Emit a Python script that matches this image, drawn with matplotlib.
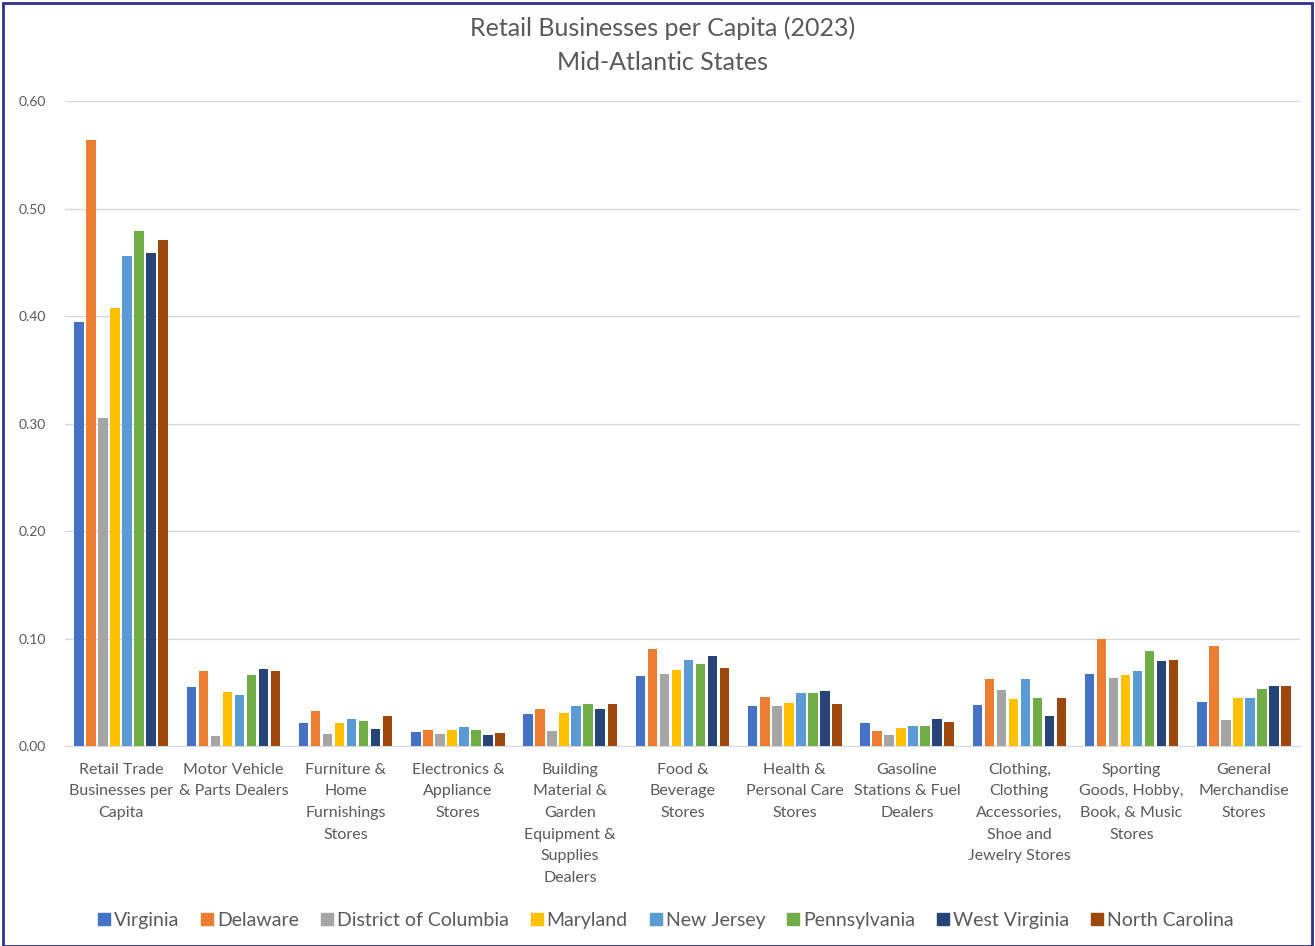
import matplotlib
matplotlib.use("Agg")
import matplotlib.pyplot as plt
import numpy as np
from matplotlib.patches import Rectangle
from matplotlib.lines import Line2D

plt.rcParams['font.family'] = ['Lato', 'DejaVu Sans']

categories = [
    "Retail Trade\nBusinesses per\nCapita",
    "Motor Vehicle\n& Parts Dealers",
    "Furniture &\nHome\nFurnishings\nStores",
    "Electronics &\nAppliance\nStores",
    "Building\nMaterial &\nGarden\nEquipment &\nSupplies\nDealers",
    "Food &\nBeverage\nStores",
    "Health &\nPersonal Care\nStores",
    "Gasoline\nStations & Fuel\nDealers",
    "Clothing,\nClothing\nAccessories,\nShoe and\nJewelry Stores",
    "Sporting\nGoods, Hobby,\nBook, & Music\nStores",
    "General\nMerchandise\nStores",
]

states = ["Virginia", "Delaware", "District of Columbia", "Maryland",
          "New Jersey", "Pennsylvania", "West Virginia", "North Carolina"]

virginia = [0.394, 0.055, 0.021, 0.013, 0.030, 0.065, 0.037, 0.021, 0.038, 0.067, 0.041]
delaware = [0.564, 0.070, 0.033, 0.015, 0.034, 0.090, 0.046, 0.014, 0.062, 0.100, 0.093]
district_of_columbia = [0.305, 0.009, 0.011, 0.011, 0.014, 0.067, 0.037, 0.010, 0.052, 0.063, 0.024]
maryland = [0.407, 0.050, 0.021, 0.015, 0.031, 0.071, 0.040, 0.017, 0.044, 0.066, 0.045]
new_jersey = [0.456, 0.047, 0.025, 0.018, 0.037, 0.080, 0.049, 0.019, 0.062, 0.070, 0.045]
pennsylvania = [0.479, 0.066, 0.023, 0.015, 0.039, 0.076, 0.049, 0.019, 0.045, 0.088, 0.053]
west_virginia = [0.459, 0.072, 0.016, 0.010, 0.034, 0.084, 0.051, 0.025, 0.028, 0.079, 0.056]
north_carolina = [0.471, 0.070, 0.028, 0.012, 0.039, 0.073, 0.039, 0.022, 0.045, 0.080, 0.056]

series = [virginia, delaware, district_of_columbia, maryland,
          new_jersey, pennsylvania, west_virginia, north_carolina]
colors = ["#4472C4", "#ED7D31", "#A5A5A5", "#FFC000",
          "#5B9BD5", "#70AD47", "#264478", "#9E480E"]

yticks = [0.0, 0.1, 0.2, 0.3, 0.4, 0.5, 0.6]
text_color = "#595959"

fig = plt.figure(figsize=(13.15, 9.46), dpi=100)
ax = fig.add_axes([65 / 1315, 1 - 746 / 946, (1300 - 65) / 1315, (746 - 101) / 946])

x = np.arange(len(categories))
slot = 0.107
width = 0.085
for i, (vals, c) in enumerate(zip(series, colors)):
    offs = (i - (len(series) - 1) / 2) * slot
    ax.bar(x + offs, vals, width=width, color=c, label=states[i], zorder=3)

ax.set_xlim(-0.5, len(categories) - 0.5)
ax.set_ylim(0, 0.6)
ax.set_yticks(yticks)
ax.set_yticklabels([f"{t:.2f}" for t in yticks], fontsize=10, color=text_color)
ax.set_xticks(x)
ax.set_xticklabels(categories, fontsize=11.5, color=text_color, linespacing=1.7)
ax.tick_params(axis='both', length=0)
ax.tick_params(axis='y', pad=14)
ax.tick_params(axis='x', pad=12)
ax.grid(axis='y', color="#d9d9d9", linewidth=1, zorder=0)
for s in ["top", "right", "left"]:
    ax.spines[s].set_visible(False)
ax.spines["bottom"].set_color("#d9d9d9")

fig.text(0.504, 1 - 28 / 946, "Retail Businesses per Capita (2023)", ha="center",
         va="center", fontsize=18, color=text_color)
fig.text(0.504, 1 - 62 / 946, "Mid-Atlantic States", ha="center",
         va="center", fontsize=18, color=text_color)

handles = [Line2D([], [], marker="s", linestyle="none", markersize=8.5,
                  markerfacecolor=c, markeredgecolor=c) for c in colors]
fig.legend(handles, states, loc="center", bbox_to_anchor=(0.506, 1 - 920 / 946),
           ncol=8, frameon=False, fontsize=14, handlelength=0.7,
           handletextpad=0.15, columnspacing=1.1, labelcolor=text_color)

fig.add_artist(Rectangle((0.002, 0.0), 0.996, 0.997, transform=fig.transFigure,
                         fill=False, edgecolor="#2e3192", linewidth=2))

fig.savefig("out.png", dpi=100)
